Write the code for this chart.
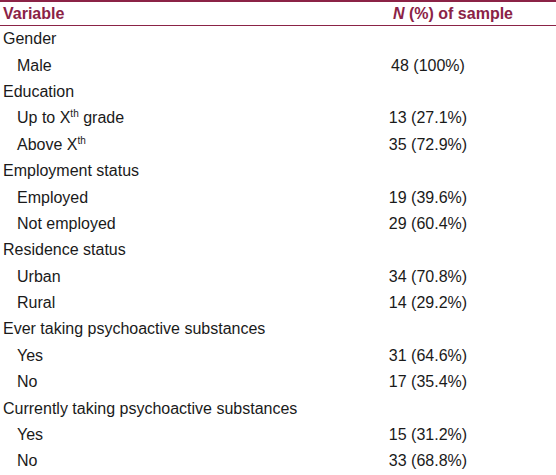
<!DOCTYPE html>
<html><head><meta charset="utf-8">
<script src="https://cdn.jsdelivr.net/npm/chart.js@4.4.0/dist/chart.umd.min.js"></script>
<style>
html,body{margin:0;padding:0;background:#fff;width:556px;height:475px;overflow:hidden;font-family:"Liberation Sans",Arial,sans-serif;}
table{border-collapse:collapse;width:556px;position:absolute;top:0;left:0;table-layout:fixed;}
th{color:#8b2346;font-weight:bold;font-size:16px;height:23px;padding:0;border-top:2px solid #8b2346;border-bottom:1.5px solid #8b2346;}
td{font-size:16px;color:#1a1a1a;height:26.4px;padding:0;line-height:16px;}
tr:last-child td{border-bottom:1.5px solid #8b2346;}
.l{text-align:left;padding-left:3px;width:297px;}
.r{text-align:center;}
.ind{padding-left:17px;}
</style></head><body>
<table id="t"><thead><tr><th class="l">Variable</th><th class="r" style="padding-left:50px"><i>N</i> (%) of sample</th></tr></thead><tbody></tbody></table>
<script>
const labels=["Gender","Male","Education","Up to X<sup>th</sup> grade","Above X<sup>th</sup>","Employment status","Employed","Not employed","Residence status","Urban","Rural","Ever taking psychoactive substances","Yes","No","Currently taking psychoactive substances","Yes","No"];
const indent=[0,1,0,1,1,0,1,1,0,1,1,0,1,1,0,1,1];
const counts=[null,48,null,13,35,null,19,29,null,34,14,null,31,17,null,15,33];
const percents=[null,"100%",null,"27.1%","72.9%",null,"39.6%","60.4%",null,"70.8%","29.2%",null,"64.6%","35.4%",null,"31.2%","68.8%"];
const tb=document.querySelector('#t tbody');
labels.forEach((l,i)=>{
  const tr=document.createElement('tr');
  const a=document.createElement('td');a.className='l'+(indent[i]?' ind':'');a.innerHTML=l.replace(/<sup>/g,'<sup style="font-size:10px;line-height:0">');
  const b=document.createElement('td');b.className='r';b.textContent=counts[i]==null?'':counts[i]+' ('+percents[i]+')';
  tr.appendChild(a);tr.appendChild(b);tb.appendChild(tr);
});
</script>
</body></html>
